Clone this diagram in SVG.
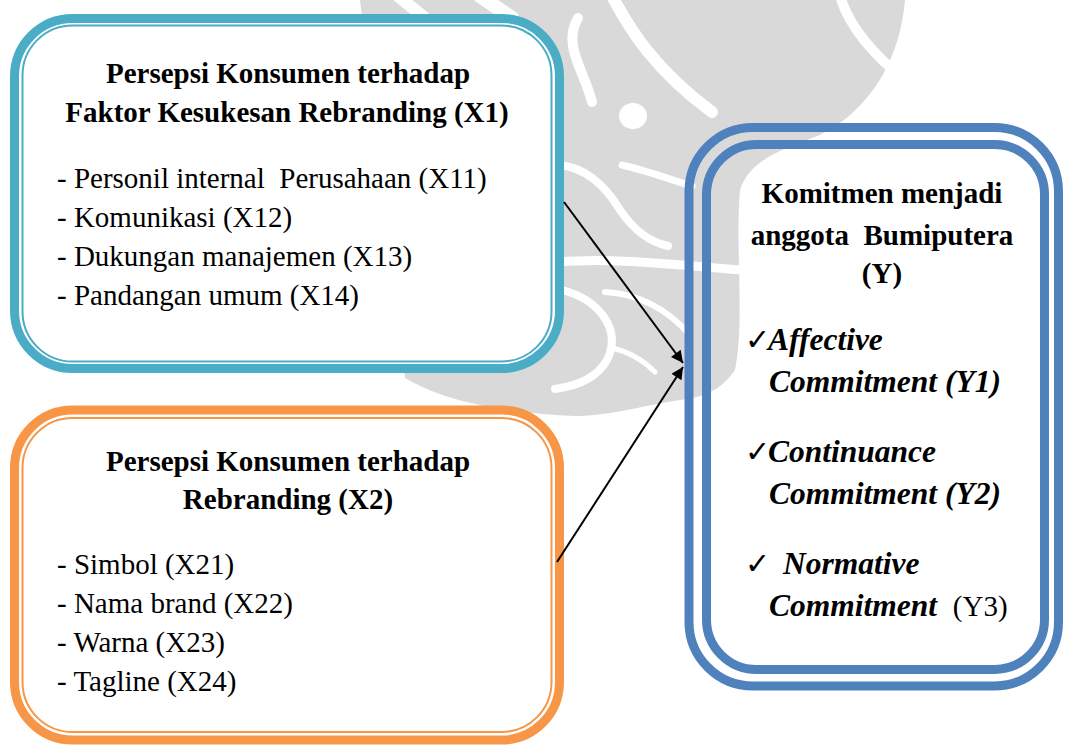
<svg xmlns="http://www.w3.org/2000/svg" width="1067" height="746" viewBox="0 0 1067 746">
  <style>
    .title { font-family: "Liberation Serif", "Times New Roman", serif; font-weight: bold; font-size: 29px; fill: #000; text-anchor: middle; }
    .item { font-family: "Liberation Serif", "Times New Roman", serif; font-size: 29px; fill: #000; white-space: pre; }
    .dim { font-family: "Liberation Serif", "Times New Roman", serif; font-weight: bold; font-style: italic; font-size: 31.5px; fill: #000; white-space: pre; }
    .plain { font-style: normal; font-weight: normal; font-size: 29px; }
    .tick { font-family: "DejaVu Sans", sans-serif; font-size: 30px; fill: #000; }
    .swirl { fill: none; stroke: #fff; stroke-linecap: round; }
    .edge { stroke: #000; stroke-width: 2; fill: none; marker-end: url(#head); }
  </style>
  <defs>
    <marker id="head" viewBox="0 0 10 10" refX="10" refY="5" markerUnits="userSpaceOnUse" markerWidth="16" markerHeight="12" orient="auto">
      <path d="M0,0 L10,5 L0,10 Z" fill="#000"/>
    </marker>
  </defs>

  <rect width="1067" height="746" fill="#fff"/>

  <!-- faint background emblem -->
  <g id="emblem">
    <path d="M360,0 L905,0 C900,60 870,110 820,135 C780,150 750,160 740,190 C735,250 745,320 735,370 C720,392 700,398 680,400 C640,406 610,416 575,416 C520,414 450,405 405,378 Z" fill="#d9d9d9"/>
    <path class="swirl" stroke-width="12" d="M398,-4 L425,18"/>
    <path class="swirl" stroke-width="14" d="M480,-4 L512,18"/>
    <path class="swirl" stroke-width="10" d="M578,18 C562,45 584,70 592,102"/>
    <path class="swirl" stroke-width="12" d="M612,-4 C630,30 655,70 712,112"/>
    <path class="swirl" stroke-width="10" d="M840,-4 C850,30 880,60 905,80"/>
    <ellipse cx="633" cy="116" rx="14" ry="13" fill="#fff"/>
    <path class="swirl" stroke-width="8" d="M560,165 C585,168 605,185 620,210 C635,232 650,242 668,246"/>
    <path class="swirl" stroke-width="7" d="M622,165 C645,170 665,178 692,186"/>
    <path class="swirl" stroke-width="9" d="M560,262 C600,258 650,262 740,270"/>
    <path class="swirl" stroke-width="6" d="M605,292 C640,294 668,310 690,335"/>
    <path class="swirl" stroke-width="8" d="M562,290 C600,300 622,330 607,360 C597,378 577,386 555,389"/>
    <path class="swirl" stroke-width="5" d="M612,348 C630,352 645,362 655,372"/>
  </g>

  <!-- source construct X1 -->
  <g id="node-x1">
    <rect x="14.5" y="18.5" width="545" height="350" rx="58" fill="#fff" stroke="#4BACC6" stroke-width="9"/>
    <rect x="22.5" y="25.5" width="529" height="336" rx="50" fill="none" stroke="#4BACC6" stroke-width="2"/>
    <text class="title" x="288" y="83">Persepsi Konsumen terhadap</text>
    <text class="title" x="287" y="122">Faktor Kesukesan Rebranding (X1)</text>
    <text class="item" x="57" y="188">- Personil internal  Perusahaan (X11)</text>
    <text class="item" x="57" y="227">- Komunikasi (X12)</text>
    <text class="item" x="57" y="266">- Dukungan manajemen (X13)</text>
    <text class="item" x="57" y="305">- Pandangan umum (X14)</text>
  </g>

  <!-- source construct X2 -->
  <g id="node-x2">
    <rect x="14.5" y="410" width="545" height="330" rx="58" fill="#fff" stroke="#F79646" stroke-width="9"/>
    <rect x="22.5" y="418" width="529" height="314" rx="50" fill="none" stroke="#F79646" stroke-width="2"/>
    <text class="title" x="288" y="471">Persepsi Konsumen terhadap</text>
    <text class="title" x="288" y="509">Rebranding (X2)</text>
    <text class="item" x="57" y="574">- Simbol (X21)</text>
    <text class="item" x="57" y="613">- Nama brand (X22)</text>
    <text class="item" x="57" y="652">- Warna (X23)</text>
    <text class="item" x="57" y="691">- Tagline (X24)</text>
  </g>

  <!-- outcome construct Y -->
  <g id="node-y">
    <rect x="689" y="127.5" width="369.5" height="558.5" rx="64" fill="none" stroke="#4F81BD" stroke-width="9"/>
    <rect x="706.5" y="144.5" width="338" height="525" rx="50" fill="none" stroke="#4F81BD" stroke-width="9"/>
    <text class="title" x="882" y="203">Komitmen menjadi</text>
    <text class="title" x="882" y="245" style="white-space:pre">anggota  Bumiputera</text>
    <text class="title" x="882" y="283">(Y)</text>
    <text class="tick" x="745" y="350">✓</text>
    <text class="dim" x="768" y="350">Affective</text>
    <text class="dim" x="769" y="392">Commitment (Y1)</text>
    <text class="tick" x="745" y="462">✓</text>
    <text class="dim" x="768" y="462">Continuance</text>
    <text class="dim" x="769" y="504">Commitment (Y2)</text>
    <text class="tick" x="745" y="574">✓</text>
    <text class="dim" x="783" y="574">Normative</text>
    <text class="dim" x="769" y="616">Commitment  <tspan class="plain">(Y3)</tspan></text>
  </g>

  <!-- influence paths -->
  <g id="connectors">
    <line class="edge" x1="564" y1="202" x2="683" y2="363"/>
    <line class="edge" x1="557" y1="562" x2="683" y2="367"/>
  </g>
</svg>
